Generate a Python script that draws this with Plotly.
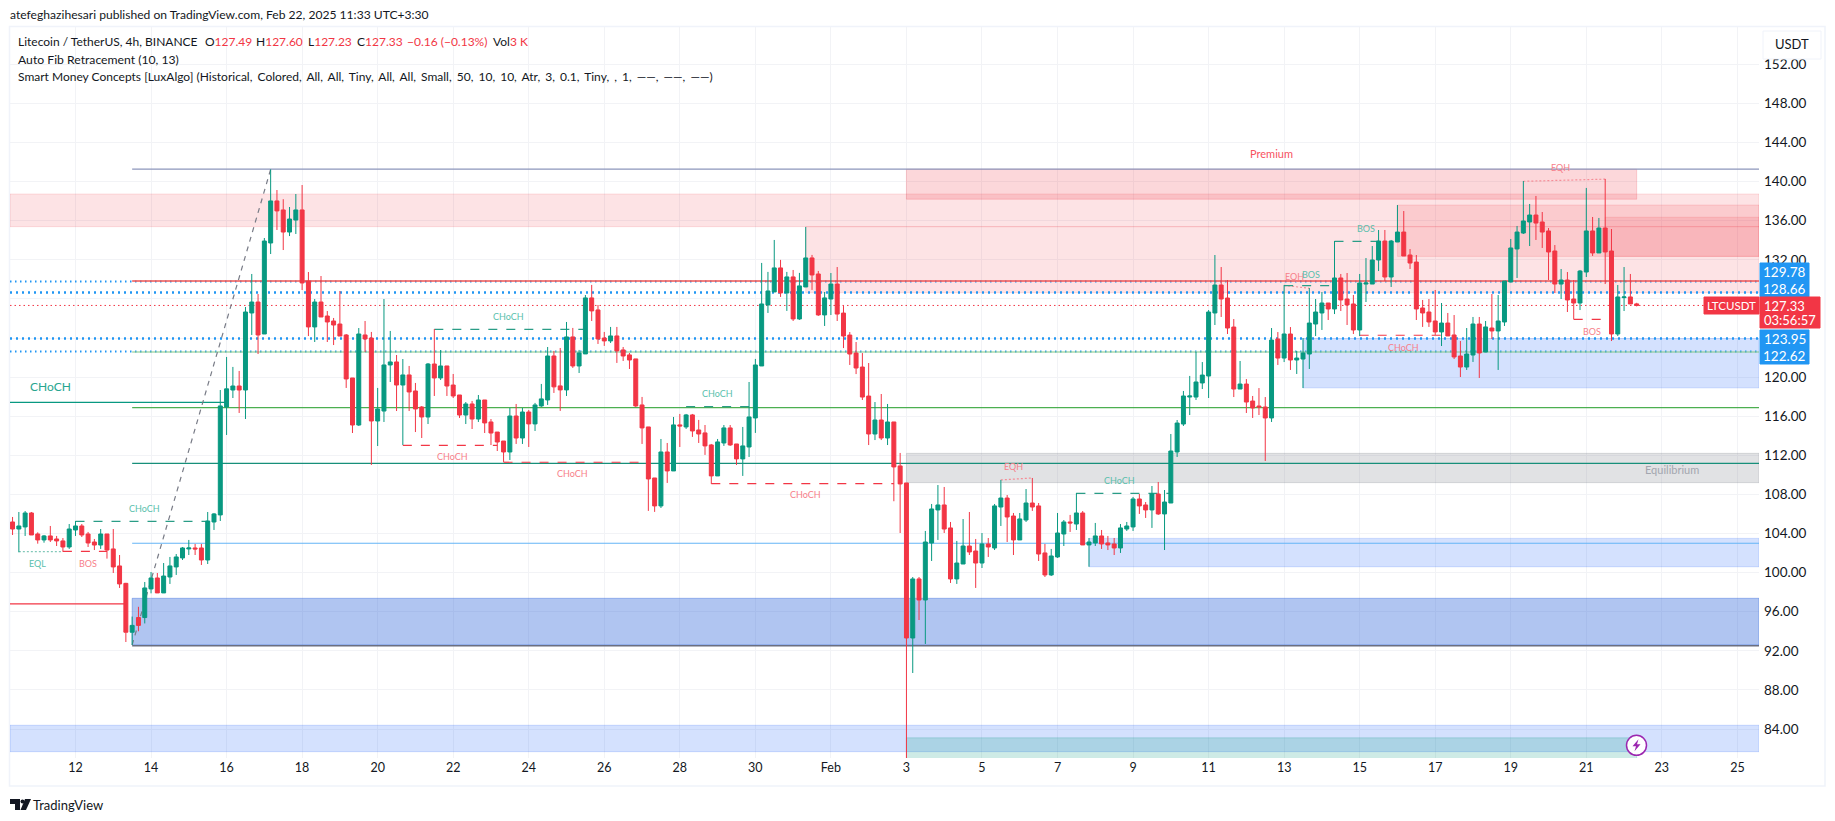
import pandas as pd
import plotly.graph_objects as go

# ---------------- data (4h bars, first bar = 10 bars before 12 Jan 00:00) ----------------
opens = [105.18,104.46,104.67,106.1,103.95,103.34,103.75,103.44,103.24,102.62,
104.36,104.77,103.95,103.13,102.82,103.95,102.42,100.68,98.9,93.9,
95.4,95.4,98.33,99.45,97.92,99.55,100.58,101.5,102.42,102.52,
102.52,101.29,105.18,105.9,116.94,118.68,119.09,118.68,126.56,127.68,
124.41,133.72,138.02,137.1,134.84,136.07,137.1,129.83,125.13,127.68,
126.25,125.74,125.43,124.31,119.91,115.1,124.31,124,115.51,116.53,
121.24,121.55,119.19,120.22,118.58,116.94,115.92,121.34,119.91,121.14,
119.19,118.17,116.12,117.25,115.71,117.66,115.41,114.38,113.46,112.34,
116.02,113.77,116.43,115.21,117.05,117.66,122.16,119.1,118.69,124.11,
121.14,122.37,128.1,126.87,124,123.7,124.21,122.78,122.27,121.86,
117.15,114.9,109.68,106.82,112.34,110.4,115.11,114.9,116.13,114.59,
114.29,113.06,109.89,113.26,114.8,113.16,111.63,112.85,115.82,121.14,
127.38,128.71,131.17,128.61,130.25,125.95,129.22,132.19,130.55,126.36,
127.99,129.52,126.55,124.3,122.46,121.03,118.06,114.18,115.61,113.77,
115.41,110.91,109.17,93.31,99.35,97.2,103.03,106.41,106.92,104.57,
99.35,100.88,102.72,102.21,100.98,102.93,102.52,106.71,107.63,105.79,
103.34,105.38,107.12,106.82,102.01,99.76,101.6,103.95,105.18,104.97,
106.1,102.83,103.03,103.75,103.03,102.93,102.52,104.46,104.67,107.53,
106.92,106.41,108.04,106,107.12,112.34,115.2,117.96,117.96,119.4,
120.11,126.56,129.42,128.09,125.12,118.78,119.29,117.55,117.04,116.94,
115.82,123.9,121.95,124.41,121.75,121.85,122.36,125.43,126.56,127.58,
126.97,130.14,127.99,127.48,124.82,129.52,129.52,131.98,133.92,130.24,
133.82,134.84,132.49,131.77,127.07,126.66,125.74,124.62,125.53,124.31,
122.16,121.03,122.26,125.43,122.57,125.02,124.72,125.64,129.73,133.11,
134.74,135.87,136.58,135.87,134.95,132.9,129.52,129.93,127.99,127.58,
130.75,134.95,132.7,135.25,132.9,124.41,128.13,128.2,127.49]
highs = [105.69,106.2,106.3,106.2,104.12,103.85,104.77,103.75,103.54,104.97,
105.28,104.97,104.16,103.44,104.46,103.95,104.46,101.8,98.95,95.5,
96.5,99.04,100.06,99.96,100.98,101.6,101.9,102.62,103.34,102.93,
102.93,106.2,106.1,118.68,122.06,121.04,120.63,127.17,130.55,128.5,
134.23,141.25,139.14,138.2,137.4,138.73,139.65,130.75,127.99,130.34,
126.76,126.05,128.81,124.41,119.91,125.02,125.74,124.62,118.89,127.99,
124.72,122.26,121.85,121.14,119.4,117.04,121.44,124.92,122.77,121.14,
120.32,118.17,117.45,117.56,118.17,117.66,115.71,114.38,113.46,116.84,
117.25,116.84,116.64,117.36,119.3,123.08,122.68,122.98,125.64,125.03,
122.78,128.4,129.43,127.38,124.62,125.13,125.13,123.08,122.47,121.86,
117.97,114.9,109.68,113.67,113.26,115.92,116.23,116.23,116.23,115.62,
115.1,113.16,113.67,115.1,115.1,113.16,114.9,119.5,121.86,131.68,
130.76,134.03,131.99,130.76,130.96,130.66,135.36,132.5,130.86,128.71,
130.65,131.26,127.27,124.61,123.59,122.46,121.44,117.45,118.27,117.25,
115.41,112.24,109.17,99.55,99.55,104.26,107.02,108.96,108.76,105.18,
103.24,105.48,106.2,103.44,104.05,103.54,107.02,109.48,107.94,106.1,
106.1,108.55,109.68,107.12,102.93,102.42,106.1,105.38,105.9,108.15,
106.3,103.54,105.08,104.36,103.75,103.54,104.97,105.18,107.74,108.04,
107.22,108.86,109.27,108.45,114.18,115.61,118.58,120.12,122.57,121.54,
126.86,132.49,131.26,129.93,125.94,121.65,119.8,118.07,118.88,117.96,
125.02,124.61,129.42,125.12,122.67,124,129.11,127.99,128.7,127.58,
133.92,130.55,130.65,128.4,130.55,132.18,133.41,135.05,135.05,134.03,
137.6,136.99,133.1,132.49,127.89,127.99,128.91,127.58,126.56,126.35,
123.69,125.02,126.15,126.15,125.74,128.5,128.4,129.83,134.13,135.46,
140.06,137.71,138.53,136.89,135.25,133.51,131.06,130.75,129.93,130.96,
139.35,136.38,136.28,140.27,135.15,129.42,131.26,130.55,127.6]
lows = [103.85,102.08,103.75,103.85,102.96,103.06,103.13,102.72,102.14,102.42,
103.75,103.64,102.62,102.31,102.42,101.43,99.96,98.43,92.9,92.6,
94,94.8,97.88,97.92,97.92,98.84,99.76,101.29,101.8,101.8,
100.78,100.88,104.36,105.28,114.08,117.86,116.33,115.71,124.31,122.36,
124.41,132.59,135.05,133,134.43,134.64,128.91,124.2,123.59,126.15,
123.59,123.28,124.2,118.89,114.28,115,122.57,111.01,112.95,115.41,
119.5,116.53,113.05,116.53,114.38,113.77,115.2,118.07,119.7,118.07,
117.86,115.82,115.2,114.69,115.41,114.28,113.05,112.44,111.32,111.52,
113.16,113.16,112.85,114.49,116.95,117.15,118.38,116.54,118.07,120.94,
120.42,122.37,125.74,123.39,123.19,123.49,121.45,121.65,120.83,116.95,
113.16,106.31,106.21,106.61,109.17,110.4,112.85,114.7,113.88,113.26,
112.04,109.07,109.89,112.96,112.96,111.01,109.89,111.83,114.29,121.14,
126.56,128.71,128.2,126.77,125.74,125.85,129.22,128.92,126.26,125.23,
126.35,125.74,122.97,121.24,120.31,117.66,113.05,113.56,113.56,113.05,
107.3,104.05,81,89.73,95.15,92.7,101.19,103.34,104.05,98.94,
98.84,100.88,101.8,98.43,100.47,101.6,102.31,104.77,103.13,101.8,
103.34,105.18,106.31,101.19,99.55,99.65,101.5,102.72,104.16,104.36,
102.83,100.6,102.72,102.42,102.31,101.8,102.01,104.26,104.26,106,
105.59,104.57,105.9,102.31,107.12,111.83,115,116.12,117.66,118.78,
117.86,125.33,126.15,124.41,117.96,118.78,116.33,115.82,116.12,111.42,
115.41,121.24,121.54,120.73,120.32,118.88,120.83,124.2,124.82,125.84,
126.45,126.76,125.33,124.41,124.2,127.68,129.52,130.85,129.83,129.22,
133.82,132.39,131.06,125.84,125.13,125.13,124.31,123.18,124.21,121.85,
120.01,120.73,121.55,119.91,122.57,123.9,120.73,125.23,129.73,130.14,
134.64,133.41,134.03,133.21,129.93,128.6,127.99,126.66,125.91,126.86,
130.24,132.39,132.7,129.52,123.69,124.2,126.76,127.48,127.23]
closes = [104.46,104.77,106.1,103.85,103.34,103.75,103.34,103.24,102.62,104.46,
104.77,103.85,103.03,102.82,103.95,102.31,100.58,98.84,93.9,94.6,
94.6,98.43,99.45,97.92,99.65,100.68,101.6,102.52,102.52,102.42,
101.29,105.28,106,117.05,118.8,119.09,118.68,126.66,127.68,124.31,
133.92,138.02,137,134.84,136.17,137.1,129.63,125.13,127.68,126.15,
125.64,125.33,124.2,119.81,115.1,124.41,123.9,115.51,116.74,121.24,
121.55,119.19,120.22,118.48,116.74,115.92,121.34,119.91,121.14,119.09,
118.07,116.12,117.25,115.71,117.66,115.31,114.28,113.36,112.34,116.02,
113.77,116.43,115.21,117.15,117.77,122.16,119,118.69,124.11,121.14,
122.47,128.1,126.77,123.9,123.7,124.21,122.68,122.16,121.75,117.05,
114.8,109.58,106.82,112.34,110.4,115.11,115,116.13,114.49,114.18,
112.96,109.89,113.37,114.8,113.06,111.63,112.96,115.92,121.24,127.48,
128.81,131.17,128.61,130.25,125.95,129.33,132.19,130.45,126.36,128.1,
129.52,126.45,124.2,122.36,120.93,117.96,114.18,115.61,113.77,115.41,
110.81,109.07,93.31,99.35,97.2,103.13,106.51,106.92,104.46,99.35,
100.98,102.72,102.11,100.98,102.93,102.62,106.82,107.63,105.69,103.34,
105.49,107.12,106.71,101.9,99.76,101.7,104.05,105.18,105.08,106.1,
102.83,103.13,103.75,102.93,102.83,102.52,104.57,104.77,107.53,106.82,
106.41,108.04,106,107.22,112.44,115.3,118.07,118.07,119.5,120.21,
126.66,129.42,127.99,125.02,118.78,119.29,117.45,116.84,116.94,115.82,
123.79,121.95,124.41,121.75,121.95,122.47,125.53,126.66,127.58,126.97,
130.14,127.89,127.38,124.82,129.63,129.63,131.98,133.92,130.24,133.92,
134.84,132.39,131.67,126.97,126.56,125.64,124.62,125.53,124.21,122.06,
121.03,122.36,125.43,122.47,125.13,124.72,125.74,129.83,133.21,134.84,
135.97,136.58,135.76,134.84,132.8,129.52,129.93,127.89,127.58,130.85,
134.95,132.7,135.25,132.8,124.41,128.2,128.2,127.48,127.33]

price_ticks = [84,88,92,96,100,104,108,112,116,120,124,128,132,136,140,144,148,152]
date_ticks = ["2025-01-12","2025-01-14","2025-01-16","2025-01-18","2025-01-20","2025-01-22",
              "2025-01-24","2025-01-26","2025-01-28","2025-01-30","2025-02-01","2025-02-03",
              "2025-02-05","2025-02-07","2025-02-09","2025-02-11","2025-02-13","2025-02-15",
              "2025-02-17","2025-02-19","2025-02-21","2025-02-23","2025-02-25"]
date_labels = ["12","14","16","18","20","22","24","26","28","30","Feb","3","5","7","9","11",
               "13","15","17","19","21","23","25"]

# zones: first bar, last bar (None = to the chart edge), low, high, fill
PINK, PINK2 = "rgba(242,54,69,0.14)", "rgba(242,54,69,0.2)"
LBLUE, DBLUE = "rgba(41,105,250,0.2)", "rgba(41,98,217,0.37)"
zones = [
    (None, None, 135.39, 138.73, PINK),
    (116, None, 128.63, 135.39, PINK),
    (132, 248, 138.2, 141.26, PINK2),
    (210, None, 132.35, 137.6, PINK),
    (243, None, 132.35, 136.35, PINK),
    (195, None, 118.9, 123.95, LBLUE),
    (161, None, 100.6, 103.5, LBLUE),
    (9, None, 92.6, 97.37, DBLUE),
    (None, None, 81.68, 84.38, LBLUE),
    (132, None, 109.2, 112.2, "rgba(120,123,134,0.22)"),
    (132, 248, 80.0, 83.1, "rgba(8,153,129,0.2)"),
]
# horizontal levels: first bar, last bar, price, colour, width, dash
DOT = "2px,4px"
levels = [
    (None, None, 129.78, "#2196f3", 2, "1.5px,3.5px"),
    (None, None, 128.66, "#2196f3", 2.5, DOT),
    (None, None, 123.95, "#2196f3", 2.5, DOT),
    (None, None, 122.62, "#2196f3", 2, "1.5px,3.5px"),
    (None, None, 127.33, "#f23645", 1, "1.5px,3px"),
    (9, None, 141.28, "#8c96bb", 1.2, "solid"),
    (9, None, 129.83, "#ef5350", 1.5, "solid"),
    (9, None, 122.57, "#81c784", 1.2, "solid"),
    (9, None, 116.88, "#4caf50", 1.2, "solid"),
    (9, None, 111.18, "#178f7a", 1.2, "solid"),
    (9, None, 103.0, "#64b5f6", 1.2, "solid"),
    (9, None, 92.52, "#6b6f80", 1.5, "solid"),
    (None, 24, 117.42, "#089981", 1.2, "solid"),
    (None, 8, 96.8, "#f23645", 1.2, "solid"),
]
# structure segments: bar0, price0, bar1, price1, colour, dash
GREEN_D, RED_D = "#2a9d86", "#f23645"
EQ_R, EQ_G = "#f58d97", "#82c8b9"
segments = [
    (-9, 102.14, -2, 102.14, EQ_G, "2px,2px"),
    (-2, 102.17, 5, 102.17, RED_D, "dash"),
    (0, 105.25, 21, 105.25, GREEN_D, "dash"),
    (57, 124.89, 81, 124.89, GREEN_D, "dash"),
    (52, 113.02, 67, 113.02, RED_D, "dash"),
    (68, 111.29, 90, 111.29, RED_D, "dash"),
    (97, 116.98, 108, 116.98, GREEN_D, "dash"),
    (101, 109.1, 130, 109.1, RED_D, "dash"),
    (147, 109.48, 152, 109.68, EQ_R, "2px,2px"),
    (159, 108.11, 174, 108.11, GREEN_D, "dash"),
    (192, 129.39, 196, 129.08, EQ_R, "2px,2px"),
    (192, 129.35, 200, 129.35, GREEN_D, "dash"),
    (200, 133.89, 207, 133.89, GREEN_D, "dash"),
    (204, 124.28, 217, 124.28, RED_D, "dash"),
    (230, 140.03, 243, 140.25, EQ_R, "2px,2px"),
    (238, 125.91, 244, 125.91, RED_D, "dash"),
    (9, 92.6, 31, 141.25, "#787b86", "5px,5px"),
]
# small chart labels: text, page x, page y, colour, size
G_T, R_T = "#5abfad", "#f77f8a"
labels = [
    ("EQL", 37.6, 563.7, G_T, 9), ("BOS", 87.8, 563.7, R_T, 9), ("CHoCH", 144, 508, G_T, 9),
    ("CHoCH", 50, 386.7, "#27a58f", 12), ("CHoCH", 509, 316, G_T, 9), ("CHoCH", 452, 456, R_T, 9),
    ("CHoCH", 572, 474, R_T, 9), ("CHoCH", 717, 394, G_T, 9), ("CHoCH", 805, 495, R_T, 9),
    ("EQH", 1013, 466, R_T, 9), ("CHoCH", 1119, 480, G_T, 9), ("EQH", 1294, 276, R_T, 9),
    ("BOS", 1311, 274, G_T, 9), ("BOS", 1366, 228, G_T, 9), ("CHoCH", 1403, 347, R_T, 9),
    ("EQH", 1560, 167, R_T, 9), ("BOS", 1592, 331, R_T, 9),
    ("Premium", 1271.5, 153.7, "#f7525f", 11), ("Equilibrium", 1672, 469, "#a3a6af", 11),
]

# ---------------- geometry ----------------
FONT = "Lato"
INK = "#131722"
L, R, T, B = 10.0, 1759.0, 27.0, 758.0
px = lambda x: (x - L) / (R - L)
py = lambda y: (B - y) / (B - T)
START = pd.Timestamp("2025-01-12")
bar = lambda k: START + pd.Timedelta(hours=4 * k)
dates = [bar(k) for k in range(-10, len(opens) - 10)]
assert len(opens) == len(highs) == len(lows) == len(closes) == 259
X0 = START + pd.Timedelta(days=(L - 75.5) / 37.77)
X1 = START + pd.Timedelta(days=(R - 75.5) / 37.77)
Y0, Y1 = 152 - (B - 64.3) / 9.775, 152 - (T - 64.3) / 9.775

fig = go.Figure(go.Candlestick(
    x=dates, open=opens, high=highs, low=lows, close=closes, whiskerwidth=0,
    increasing=dict(line=dict(color="#089981", width=1), fillcolor="#089981"),
    decreasing=dict(line=dict(color="#f23645", width=1), fillcolor="#f23645"),
    showlegend=False, hoverinfo="skip"))

for b0, b1, lo, hi, col in zones:
    fig.add_shape(type="rect", layer="between", x0=X0 if b0 is None else bar(b0),
                  x1=X1 if b1 is None else bar(b1), y0=lo, y1=hi, fillcolor=col,
                  line=dict(color=col, width=1))
for b0, b1, p, col, w, dash in levels:
    fig.add_shape(type="line", layer="between", x0=X0 if b0 is None else bar(b0),
                  x1=X1 if b1 is None else bar(b1), y0=p, y1=p,
                  line=dict(color=col, width=w, dash=dash))
for b0, p0, b1, p1, col, dash in segments:
    fig.add_shape(type="line", layer="between", x0=bar(b0), x1=bar(b1), y0=p0, y1=p1,
                  line=dict(color=col, width=1.2, dash=dash))


def note(text, x, y, color=INK, size=12, anchor="center"):
    fig.add_annotation(text=text, x=px(x), y=py(y), xref="paper", yref="paper", showarrow=False,
                       xanchor=anchor, yanchor="middle", font=dict(family=FONT, size=size, color=color),
                       borderpad=0, borderwidth=0)


def box(x0, x1, y0, y1, fill, line=None):
    fig.add_shape(type="rect", xref="paper", yref="paper", x0=px(x0), x1=px(x1), y0=py(y0), y1=py(y1),
                  fillcolor=fill, line=dict(color=line or fill, width=1))


for text, x, y, col, size in labels:
    note(text, x, y, col, size)

# outer frame
fig.add_shape(type="rect", xref="paper", yref="paper", layer="below", x0=px(9.5), x1=px(1825),
              y0=py(786), y1=py(26.5), line=dict(color="#f0f3fa", width=1.5))

# header and legend
RED = "#f23645"
c = lambda s: f"<span style='color:{RED}'>{s}</span>"
note("atefeghazihesari published on TradingView.com, Feb 22, 2025 11:33 UTC+3:30", 10, 15, size=12.1, anchor="left")
note("Litecoin / TetherUS, 4h, BINANCE", 18, 41.7, anchor="left")
note("O" + c("127.49"), 205, 41.7, anchor="left")
note("H" + c("127.60"), 256, 41.7, anchor="left")
note("L" + c("127.23"), 308, 41.7, anchor="left")
note("C" + c("127.33"), 357, 41.7, anchor="left")
note(c("\u22120.16 (\u22120.13%)"), 407, 41.7, anchor="left")
note("Vol" + c("3 K"), 493, 41.7, anchor="left")
note("Auto Fib Retracement (10, 13)", 18, 59, size=12.2, anchor="left")
GAP = ",\u2006 "
note("Smart Money Concepts [LuxAlgo] (Historical" + GAP + GAP.join(
    ["Colored", "All", "All", "Tiny", "All", "All", "Small", "50", "10", "10", "Atr", "3", "0.1", "Tiny", "", "1",
     "\u2014\u2014", "\u2014\u2014", "\u2014\u2014)"]), 18, 76, anchor="left")

# USDT button
box(1763, 1821, 31, 59, "#ffffff", "#f0f3fa")
note("USDT", 1792, 44.5, INK, 13)

# price tags
BLUE = "#2196f3"
box(1760, 1809, 263, 280, BLUE)
note("129.78", 1784.5, 271.5, "#ffffff", 13.5)
box(1760, 1809, 280, 297, BLUE)
note("128.66", 1784.5, 288.5, "#ffffff", 13.5)
box(1704, 1759, 297, 314, RED)
note("LTCUSDT", 1731.5, 305.5, "#ffffff", 11.5)
box(1760, 1820, 297, 328, RED)
note("127.33", 1784.5, 305.5, "#ffffff", 13)
note("03:56:57", 1790, 320, "#ffffff", 13)
box(1760, 1809, 330, 347, BLUE)
note("123.95", 1784.5, 338.5, "#ffffff", 13.5)
box(1760, 1809, 347, 364, BLUE)
note("122.62", 1784.5, 355.5, "#ffffff", 13.5)

# lightning badge
cx, cy = 1636.5, 745.3
fig.add_shape(type="circle", xref="paper", yref="paper", x0=px(cx - 10), x1=px(cx + 10), y0=py(cy + 10), y1=py(cy - 10),
              fillcolor="#ffffff", line=dict(color="#9c27b0", width=1.5))
bolt = [(cx + 2, cy - 6), (cx - 4, cy + 1), (cx - 0.5, cy + 1), (cx - 2, cy + 6), (cx + 4, cy - 1), (cx + 0.5, cy - 1)]
fig.add_shape(type="path", xref="paper", yref="paper", fillcolor="#9c27b0", line=dict(width=0),
              path="M" + " L".join(f"{px(a):.5f},{py(b):.5f}" for a, b in bolt) + " Z")

# TradingView logo
logo = [[(10, 799), (20, 799), (20, 810), (15, 810), (15, 804), (10, 804)], [(25, 799), (31, 799), (26, 810), (20.5, 810)]]
for pts in logo:
    fig.add_shape(type="path", xref="paper", yref="paper", fillcolor=INK, line=dict(width=0),
                  path="M" + " L".join(f"{px(a):.5f},{py(b):.5f}" for a, b in pts) + " Z")
fig.add_shape(type="circle", xref="paper", yref="paper", fillcolor=INK, line=dict(width=0),
              x0=px(20.5), x1=px(24.5), y0=py(803.5), y1=py(799.5))
note("TradingView", 33, 804.5, INK, 13, "left")

grid = "#f2f3f6"
fig.update_layout(
    width=1819, height=805, autosize=False, plot_bgcolor="#ffffff", paper_bgcolor="#ffffff",
    margin=dict(l=2, r=68, t=19, b=55), boxgap=0.1, hovermode=False,
    font=dict(family=FONT, size=12, color=INK),
    xaxis=dict(type="date", range=[X0, X1], rangeslider=dict(visible=False), tickmode="array",
               tickvals=date_ticks, ticktext=date_labels, showgrid=True, gridcolor=grid, gridwidth=1,
               zeroline=False, showline=False, ticks="", tickfont=dict(family=FONT, size=12.5, color=INK)),
    yaxis=dict(range=[Y0, Y1], side="right", tickmode="array", tickvals=price_ticks,
               ticktext=[f"{v:.2f}" for v in price_ticks], showgrid=True, gridcolor=grid, gridwidth=1,
               zeroline=False, showline=False, ticks="", ticklabelstandoff=4,
               tickfont=dict(family=FONT, size=13.5, color=INK)),
)
fig.write_html("out.html")
